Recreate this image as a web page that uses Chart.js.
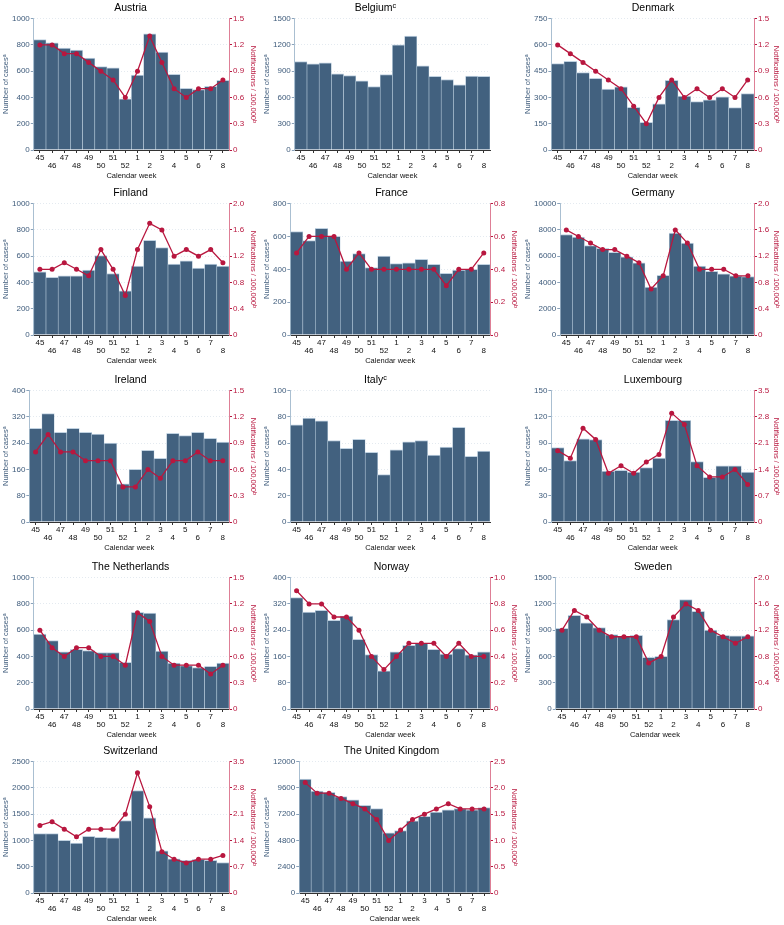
<!DOCTYPE html>
<html><head><meta charset="utf-8">
<script src="https://cdn.jsdelivr.net/npm/chart.js@4.4.1/dist/chart.umd.min.js"></script>
<style>
html,body{margin:0;padding:0;background:#fff;width:784px;height:925px;overflow:hidden;position:relative;}
canvas{position:absolute;display:block;}
</style></head><body>
<script>
const weeks = ['45','46','47','48','49','50','51','52','1','2','3','4','5','6','7','8'];

const austriaCases = [840,815,775,760,700,635,625,390,570,885,745,575,470,460,485,530];
const austriaRate  = [1.2,1.2,1.1,1.1,1.0,0.9,0.8,0.6,0.9,1.3,1.0,0.7,0.6,0.7,0.7,0.8];
const belgiumCases = [1010,985,995,870,850,790,725,860,1200,1300,960,840,805,745,845,840];
const denmarkCases = [493,506,442,409,348,360,244,158,263,398,308,276,286,303,242,322];
const denmarkRate  = [1.2,1.1,1.0,0.9,0.8,0.7,0.5,0.3,0.6,0.8,0.6,0.7,0.6,0.7,0.6,0.8];
const finlandCases = [481,438,450,450,494,605,468,337,525,720,665,540,565,510,540,525];
const finlandRate  = [1.0,1.0,1.1,1.0,0.9,1.3,1.0,0.6,1.3,1.7,1.6,1.2,1.3,1.2,1.3,1.1];
const franceCases  = [630,575,650,600,450,495,410,480,435,440,460,430,375,395,400,430];
const franceRate   = [0.5,0.6,0.6,0.6,0.4,0.5,0.4,0.4,0.4,0.4,0.4,0.4,0.3,0.4,0.4,0.5];
const germanyCases = [7650,7450,6800,6600,6300,5950,5500,3650,4550,7750,7000,5250,4850,4650,4500,4450];
const germanyRate  = [1.6,1.5,1.4,1.3,1.3,1.2,1.1,0.7,0.9,1.6,1.4,1.0,1.0,1.0,0.9,0.9];
const irelandCases = [285,330,273,285,273,268,240,116,160,218,194,270,263,273,255,243];
const irelandRate  = [0.8,1.0,0.8,0.8,0.7,0.7,0.7,0.4,0.4,0.6,0.5,0.7,0.7,0.8,0.7,0.7];
const italyCases   = [74,79,77,62,56,63,53,36,55,61,62,51,57,72,50,54];
const luxembourgCases = [85,70,95,94,58,59,57,62,73,116,116,69,51,64,64,57];
const luxembourgRate  = [1.9,1.7,2.5,2.2,1.3,1.5,1.3,1.6,1.8,2.9,2.6,1.5,1.2,1.2,1.4,1.0];
const netherlandsCases = [570,520,435,455,445,430,430,355,735,730,440,350,330,315,325,350];
const netherlandsRate  = [0.9,0.7,0.6,0.7,0.7,0.6,0.6,0.5,1.1,1.0,0.6,0.5,0.5,0.5,0.4,0.5];
const norwayCases  = [339,295,300,270,283,212,166,116,174,194,200,182,167,184,165,174];
const norwayRate   = [0.9,0.8,0.8,0.7,0.7,0.6,0.4,0.3,0.4,0.5,0.5,0.5,0.4,0.5,0.4,0.4];
const swedenCases  = [920,1070,985,930,850,830,840,590,600,1020,1250,1115,900,840,835,835];
const swedenRate   = [1.2,1.5,1.4,1.2,1.1,1.1,1.1,0.7,0.8,1.4,1.6,1.5,1.2,1.1,1.0,1.1];
const switzerlandCases = [1130,1130,1000,950,1080,1060,1050,1380,1950,1430,800,650,620,640,620,580];
const switzerlandRate  = [1.8,1.9,1.7,1.5,1.7,1.7,1.7,2.1,3.2,2.3,1.1,0.9,0.8,0.9,0.9,1.0];
const ukCases = [10400,9300,9200,8800,8500,8000,7700,5500,5700,6600,7000,7400,7600,7700,7600,7800];
const ukRate  = [2.1,1.9,1.9,1.8,1.7,1.6,1.4,1.0,1.2,1.4,1.5,1.6,1.7,1.6,1.6,1.6];

const panels = [
  {name:'Austria', cases:austriaCases, rate:austriaRate, yMax:1000, yStep:200, rMax:1.5, rStep:0.3},
  {name:'Belgium\u1D9C', cases:belgiumCases, rate:null, yMax:1500, yStep:300},
  {name:'Denmark', cases:denmarkCases, rate:denmarkRate, yMax:750, yStep:150, rMax:1.5, rStep:0.3},
  {name:'Finland', cases:finlandCases, rate:finlandRate, yMax:1000, yStep:200, rMax:2.0, rStep:0.4},
  {name:'France', cases:franceCases, rate:franceRate, yMax:800, yStep:200, rMax:0.8, rStep:0.2},
  {name:'Germany', cases:germanyCases, rate:germanyRate, yMax:10000, yStep:2000, rMax:2.0, rStep:0.4},
  {name:'Ireland', cases:irelandCases, rate:irelandRate, yMax:400, yStep:80, rMax:1.5, rStep:0.3},
  {name:'Italy\u1D9C', cases:italyCases, rate:null, yMax:100, yStep:20},
  {name:'Luxembourg', cases:luxembourgCases, rate:luxembourgRate, yMax:150, yStep:30, rMax:3.5, rStep:0.7},
  {name:'The Netherlands', cases:netherlandsCases, rate:netherlandsRate, yMax:1000, yStep:200, rMax:1.5, rStep:0.3},
  {name:'Norway', cases:norwayCases, rate:norwayRate, yMax:400, yStep:80, rMax:1.0, rStep:0.2},
  {name:'Sweden', cases:swedenCases, rate:swedenRate, yMax:1500, yStep:300, rMax:2.0, rStep:0.4},
  {name:'Switzerland', cases:switzerlandCases, rate:switzerlandRate, yMax:2500, yStep:500, rMax:3.5, rStep:0.7},
  {name:'The United Kingdom', cases:ukCases, rate:ukRate, yMax:12000, yStep:2400, rMax:2.5, rStep:0.5}
];

const colLeft = [0, 261, 522];
const colWidth = [261, 261, 262];
const rightAxisW = [32, 32, 30];
const rowTop = [0, 185, 372, 559, 743];
const rowH = [185, 185, 185, 185, 185];

const BLUE = '#42617f';
const BLUE_TXT = '#3e5b7b';
const RED = '#b8173f';
const FONT = '"Liberation Sans", Arial, Helvetica, sans-serif';
Chart.defaults.font.family = FONT;

panels.forEach((p, k) => {
  const col = k % 3, row = Math.floor(k / 3);
  const cv = document.createElement('canvas');
  cv.width = colWidth[col]; cv.height = rowH[row];
  cv.style.left = colLeft[col] + 'px'; cv.style.top = rowTop[row] + 'px';
  cv.style.width = colWidth[col] + 'px'; cv.style.height = rowH[row] + 'px';
  document.body.appendChild(cv);

  const datasets = [];
  if (p.rate) {
    datasets.push({type:'line', data:p.rate, yAxisID:'y1', borderColor:RED, backgroundColor:RED,
      borderWidth:1.3, pointRadius:2.5, pointBorderWidth:0, tension:0, order:0});
  }
  datasets.push({type:'bar', data:p.cases, yAxisID:'y', backgroundColor:BLUE,
    borderColor:'rgba(185,205,222,0.9)', borderWidth:{top:1, left:0.6, right:0.6, bottom:0},
    borderSkipped:'bottom', barPercentage:1.0, categoryPercentage:1.0, order:1});

  const scales = {
    x: {
      offset:true,
      grid:{offset:false, drawOnChartArea:false, drawTicks:true, tickLength:3, tickColor:'#333'},
      border:{color:'#333', width:1},
      ticks:{autoSkip:false, maxRotation:0, minRotation:0, padding:1, color:'#111',
        font:{size:8, lineHeight:1.0},
        callback:(v, i) => (i % 2 ? ['', weeks[i]] : weeks[i])},
      title:{display:true, text:'Calendar week', color:'#111', font:{size:7.5}, padding:{top:0, bottom:5}},
      afterFit:(s) => { s.height = 35; }
    },
    y: {
      position:'left', min:0, max:p.yMax,
      ticks:{stepSize:p.yStep, color:BLUE_TXT, font:{size:8}, padding:1,
        callback:(v) => String(Math.round(v))},
      grid:{color:'#e4eaf0', tickColor:'#8aa2ba', tickLength:3},
      border:{color:'#aabfd1', width:1, dash:[1,2]},
      title:{display:true, text:'Number of cases\u1D43', color:BLUE_TXT, font:{size:7.5}, padding:{top:1, bottom:1}}
    }
  };
  if (p.rate) {
    scales.y1 = {
      position:'right', min:0, max:p.rMax,
      ticks:{stepSize:p.rStep, color:RED, font:{size:8}, padding:1,
        callback:(v) => (Math.abs(v) < 1e-9 ? '0' : v.toFixed(1))},
      grid:{drawOnChartArea:false, tickColor:RED, tickLength:3},
      border:{color:'#de7f96', width:1},
      title:{display:true, text:'Notifications / 100,000\u1D47', color:RED, font:{size:7.5}, padding:{top:3, bottom:0}},
      afterFit:(s) => { s.width = rightAxisW[col]; }
    };
  }

  new Chart(cv, {
    data:{labels:weeks, datasets},
    options:{
      responsive:false, animation:false, devicePixelRatio:1,
      layout:{padding:{left:0, right:p.rate ? 0 : rightAxisW[col], top:0, bottom:0}},
      plugins:{
        legend:{display:false}, tooltip:{enabled:false},
        title:{display:true, text:p.name, color:'#000', font:{size:10.5, weight:'normal'}, padding:{top:2, bottom:4}}
      },
      scales
    }
  });
});
</script>
</body></html>
